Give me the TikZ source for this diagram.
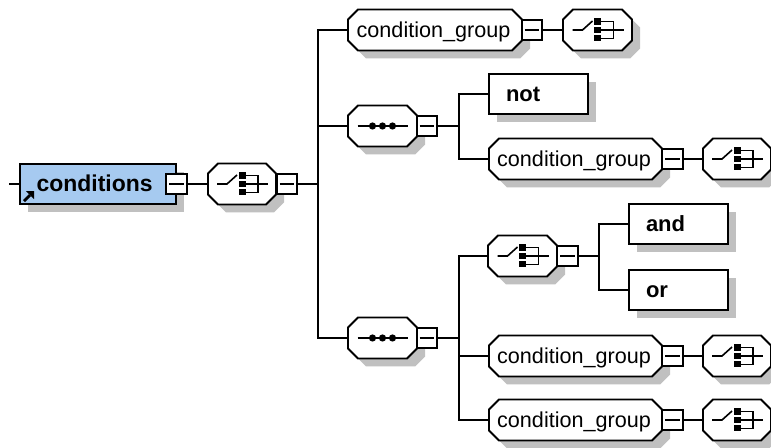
\documentclass[tikz,border=0pt]{standalone}
\usepackage{fontspec}
\setmainfont{Liberation Sans}
\usetikzlibrary{calc}
\definecolor{shadowgray}{HTML}{C0C0C0}
\definecolor{elemblue}{HTML}{A6CAF0}
\tikzset{
  x=0.75pt,y=-0.75pt,
  ln/.style={line width=1.35pt,draw=black},
  octtext/.style={shape=rectangle,inner sep=0pt,outer sep=0pt,minimum height=30.5pt,text height=15.5pt,text depth=4pt,
     font=\fontsize{16.2pt}{18pt}\selectfont},
  minusbox/.style={shape=rectangle,ln,fill=white,inner sep=0pt,outer sep=0pt,minimum width=15.4pt,minimum height=15.4pt,
     path picture={\draw[line width=1pt] ([xshift=2.2pt]path picture bounding box.west) -- ([xshift=-2.2pt]path picture bounding box.east);}},
  elem/.style={shape=rectangle,ln,fill=white,inner sep=0pt,outer sep=0pt,minimum height=30.2pt,align=left,
     text height=15.5pt,text depth=4pt,font=\fontsize{16.5pt}{18pt}\selectfont\bfseries},
  choiceicon/.pic={
    \draw[line width=1.2pt] (-25,0) -- (-15,0) -- (-5,-9);
    \fill (-3.5,-11.5) rectangle (3.5,-5);
    \fill (-3.5,-3.2) rectangle (3.5,3.2);
    \fill (-3.5,5) rectangle (3.5,11.5);
    \draw[line width=1.2pt] (3,-8.5) -- (16,-8.5) -- (16,8.5) -- (3,8.5);
    \draw[line width=1.2pt] (3,0) -- (26,0);
  },
  seqicon/.pic={
    \draw[line width=1.2pt] (-25,0) -- (25,0);
    \fill (-10,0) circle (2.7pt);
    \fill (0,0) circle (2.7pt);
    \fill (10,0) circle (2.7pt);
  }
}
% name, cx, cy, half width, text
\newcommand\Octa[5]{%
  \fill[shadowgray,shift={(#2+8,#3+8)}] (-#4,-10.5) -- (-#4+10,-20.5) -- (#4-10,-20.5) -- (#4,-10.5) -- (#4,10.5) -- (#4-10,20.5) -- (-#4+10,20.5) -- (-#4,10.5) -- cycle;
  \filldraw[ln,fill=white,shift={(#2,#3)}] (-#4,-10.5) -- (-#4+10,-20.5) -- (#4-10,-20.5) -- (#4,-10.5) -- (#4,10.5) -- (#4-10,20.5) -- (-#4+10,20.5) -- (-#4,10.5) -- cycle;
  \node[octtext,minimum width={2*#4*0.75pt}] (#1) at (#2,#3) {#5};
}
% name, left, right, cy
\newcommand\Elem[6]{%
  \fill[shadowgray] (#2+8,#4-20+8) rectangle (#3+8,#4+20+8);
  \node[elem,#5,text width={(#3-#2)*0.75pt},minimum width={(#3-#2)*0.75pt}] (#1) at ({(#2+#3)/2},#4) {#6};
}
\begin{document}
\begin{tikzpicture}
\useasboundingbox[fill=white] (0,0) rectangle (771,448);

% root
\coordinate (start) at (9,184);
\Elem{cond}{20}{176}{184}{fill=elemblue}{\hspace*{12.5pt}\fontsize{17.2pt}{18pt}\selectfont conditions}
\fill ($(cond.south west)+(14,-13)$) -- ($(cond.south west)+(6,-13)$) -- ($(cond.south west)+(14,-5)$) -- cycle;
\draw[line width=2pt] ($(cond.south west)+(4,-3)$) -- ($(cond.south west)+(10,-9)$);
\node[minusbox] (m0) at (176.5,184) {};
\Octa{c0}{242}{184}{34}{}
\pic at (c0.center) {choiceicon};
\node[minusbox] (m1) at (287,184) {};
\coordinate (j0) at (318,184);

% first branch
\Octa{g1}{435}{30}{87}{\kern-2.2pt condition\_group}
\node[minusbox] (mg1) at (532,30) {};
\Octa{cg1}{597.5}{30}{34.5}{}
\pic at (cg1.center) {choiceicon};

% second branch
\Octa{s1}{382.5}{126}{34.5}{}
\pic at (s1.center) {seqicon};
\node[minusbox] (ms1) at (427,126) {};
\coordinate (j1) at (459,126);
\Elem{not}{489}{588}{94}{}{\hspace*{12.75pt}not}
\Octa{g2}{575.5}{159}{86.5}{\kern-2.2pt condition\_group}
\node[minusbox] (mg2) at (672.5,159) {};
\Octa{cg2}{737}{159}{34}{}
\pic at (cg2.center) {choiceicon};

% third branch
\Octa{s2}{382.5}{338}{34.5}{}
\pic at (s2.center) {seqicon};
\node[minusbox] (ms2) at (427,338) {};
\coordinate (j2) at (459,338);
\Octa{c3}{522.5}{256}{34.5}{}
\pic at (c3.center) {choiceicon};
\node[minusbox] (mc3) at (567.5,256) {};
\coordinate (j3) at (599,256);
\Elem{and}{629}{728}{224}{}{\hspace*{12.75pt}and}
\Elem{or}{629}{728}{290}{}{\hspace*{12.75pt}or}
\Octa{g3}{575.5}{356}{86.5}{\kern-2.2pt condition\_group}
\node[minusbox] (mg3) at (672.5,356) {};
\Octa{cg3}{737}{356}{34}{}
\pic at (cg3.center) {choiceicon};
\Octa{g4}{575.5}{420}{86.5}{\kern-2.2pt condition\_group}
\node[minusbox] (mg4) at (672.5,420) {};
\Octa{cg4}{737}{420}{34}{}
\pic at (cg4.center) {choiceicon};

% connectors
\draw[ln] (start) -- (cond.west);
\draw[ln] (m0.east) -- (c0.west);
\draw[ln] (m1.east) -- (j0);
\draw[ln] (j0) |- (g1.west);
\draw[ln] (j0) |- (s1.west);
\draw[ln] (j0) |- (s2.west);
\draw[ln] (mg1.east) -- (cg1.west);
\draw[ln] (ms1.east) -- (j1);
\draw[ln] (j1) |- (not.west);
\draw[ln] (j1) |- (g2.west);
\draw[ln] (mg2.east) -- (cg2.west);
\draw[ln] (ms2.east) -- (j2);
\draw[ln] (j2) |- (c3.west);
\draw[ln] (j2) |- (g3.west);
\draw[ln] (j2) |- (g4.west);
\draw[ln] (mc3.east) -- (j3);
\draw[ln] (j3) |- (and.west);
\draw[ln] (j3) |- (or.west);
\draw[ln] (mg3.east) -- (cg3.west);
\draw[ln] (mg4.east) -- (cg4.west);
\end{tikzpicture}
\end{document}
